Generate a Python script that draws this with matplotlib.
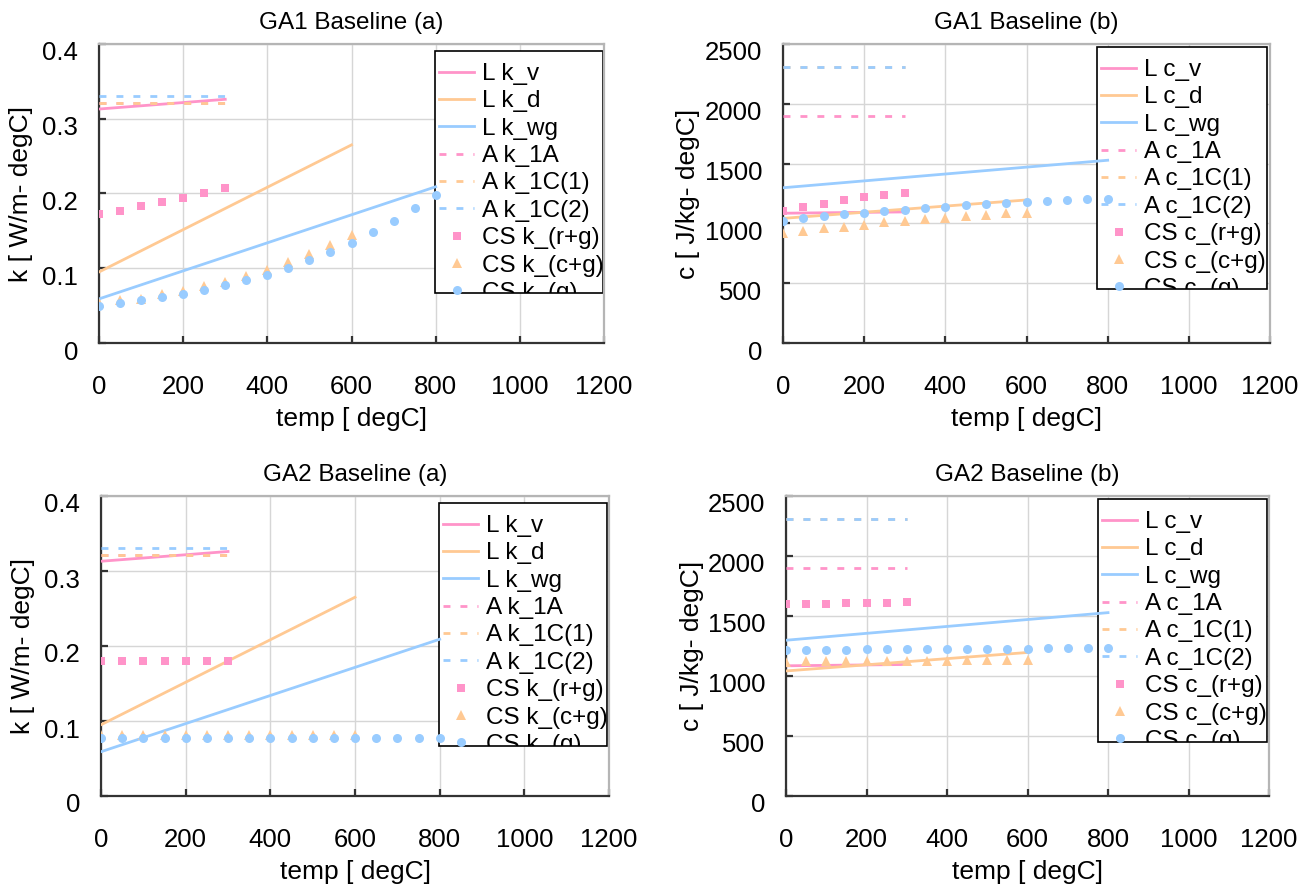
import matplotlib
matplotlib.use('Agg')
import matplotlib.pyplot as plt
from matplotlib.patches import Rectangle
from matplotlib.transforms import Bbox, TransformedBbox, ScaledTranslation

plt.rcParams['font.family'] = ['Liberation Sans', 'DejaVu Sans']

PINK = '#ff94c9'
ORANGE = '#ffc993'
BLUE = '#99ccff'

# temperatures of the CS points
temp_rg = [0, 50, 100, 150, 200, 250, 300]
temp_cg = [0, 50, 100, 150, 200, 250, 300, 350, 400, 450, 500, 550, 600]
temp_g = [0, 50, 100, 150, 200, 250, 300, 350, 400, 450, 500, 550, 600, 650, 700, 750, 800]

# literature lines (L)
lit_v_temp = [0, 300]
lit_d_temp = [0, 600]
lit_wg_temp = [0, 800]
lit_k_v = [0.313, 0.326]
lit_k_d = [0.095, 0.265]
lit_k_wg = [0.059, 0.209]
lit_c_v = [1085, 1096]
lit_c_d = [1042, 1196]
lit_c_wg = [1298, 1528]

# A lines
a_temp = [0, 300]
a_k_1a = [0.321, 0.321]
a_k_1c1 = [0.321, 0.321]
a_k_1c2 = [0.331, 0.331]
a_c_1a = [1900, 1900]
a_c_1c1 = [2305, 2305]
a_c_1c2 = [2305, 2305]

# GA1 CS results
ga1_k_rg = [0.172, 0.177, 0.183, 0.188, 0.194, 0.200, 0.208]
ga1_k_cg = [0.054, 0.057, 0.059, 0.065, 0.070, 0.076, 0.082, 0.089, 0.098, 0.108, 0.119, 0.131, 0.144]
ga1_k_g = [0.049, 0.053, 0.057, 0.061, 0.066, 0.071, 0.077, 0.084, 0.091, 0.100, 0.111, 0.122,
           0.134, 0.148, 0.163, 0.180, 0.198]
ga1_c_rg = [1102, 1136, 1166, 1192, 1217, 1236, 1258]
ga1_c_cg = [919, 938, 958, 974, 988, 1008, 1022, 1033, 1047, 1058, 1072, 1083, 1091]
ga1_c_g = [1022, 1041, 1058, 1077, 1089, 1102, 1114, 1128, 1136, 1150, 1161, 1169, 1178,
           1186, 1194, 1200, 1208]

# GA2 CS results
ga2_k_rg = [0.180, 0.180, 0.180, 0.180, 0.180, 0.180, 0.180]
ga2_k_cg = [0.081, 0.081, 0.081, 0.081, 0.081, 0.081, 0.081, 0.081, 0.081, 0.081, 0.081, 0.081, 0.081]
ga2_k_g = [0.078, 0.078, 0.078, 0.078, 0.078, 0.078, 0.078, 0.078, 0.078, 0.078, 0.078, 0.078,
           0.078, 0.078, 0.078, 0.078, 0.078]
ga2_c_rg = [1597, 1600, 1603, 1606, 1608, 1611, 1614]
ga2_c_cg = [1120, 1121, 1122, 1124, 1125, 1126, 1127, 1128, 1129, 1130, 1131, 1132, 1133]
ga2_c_g = [1217, 1218, 1219, 1220, 1221, 1222, 1223, 1224, 1225, 1226, 1227, 1228, 1229,
           1230, 1231, 1232, 1233]

x_ticks = [0, 200, 400, 600, 800, 1000, 1200]
k_ticks = [0, 0.1, 0.2, 0.3, 0.4]
k_ticklabels = ['0', '0.1', '0.2', '0.3', '0.4']
c_ticks = [0, 500, 1000, 1500, 2000, 2500]

W, H = 1310, 884
fig = plt.figure(figsize=(W / 100, H / 100), dpi=100)


def fig_rect(l, t, r, b):
    return [l / W, 1 - b / H, (r - l) / W, (b - t) / H]


def panel(box, leg_box, title, var, lit, a_lines, cs, ylabel, ylab_x, ylim, yticks, yticklabels):
    ax = fig.add_axes(fig_rect(*box))
    ax.set_axisbelow(True)
    ax.grid(True, color='#d6d6d6', lw=1)

    lw = 2.0
    dash = (2.5, 3.6)
    ax.plot(lit_v_temp, lit[0], color=PINK, lw=lw, label='L %s_v' % var, zorder=3)
    ax.plot(lit_d_temp, lit[1], color=ORANGE, lw=lw, label='L %s_d' % var, zorder=3)
    ax.plot(lit_wg_temp, lit[2], color=BLUE, lw=lw, label='L %s_wg' % var, zorder=3)
    ax.plot(a_temp, a_lines[0], color=PINK, lw=lw, ls=(0, dash), label='A %s_1A' % var, zorder=3)
    ax.plot(a_temp, a_lines[1], color=ORANGE, lw=lw, ls=(0, dash), label='A %s_1C(1)' % var, zorder=3)
    ax.plot(a_temp, a_lines[2], color=BLUE, lw=lw, ls=(0, dash), label='A %s_1C(2)' % var, zorder=3)
    ax.plot(temp_rg, cs[0], 's', color=PINK, ms=6, mew=0, label='CS %s_(r+g)' % var, zorder=3)
    ax.plot(temp_cg, cs[1], '^', color=ORANGE, ms=7, mew=0, label='CS %s_(c+g)' % var, zorder=3)
    ax.plot(temp_g, cs[2], 'o', color=BLUE, ms=6.5, mew=0, label='CS %s_(g)' % var, zorder=3)

    ax.set_xlim(0, 1200)
    ax.set_ylim(*ylim)
    ax.set_xticks(x_ticks)
    ax.set_yticks(yticks)
    ax.set_yticklabels(yticklabels)

    for s in ['left', 'bottom']:
        ax.spines[s].set_color('#333333')
        ax.spines[s].set_linewidth(1.6)
    for s in ['top', 'right']:
        ax.spines[s].set_color('#b5b5b5')
        ax.spines[s].set_linewidth(1.6)
    ax.tick_params(axis='both', direction='in', length=5, width=1.6, color='#333333', labelsize=18.5)
    ax.tick_params(axis='x', pad=23)
    ax.tick_params(axis='y', pad=15)
    off = ScaledTranslation(0, -0.07, fig.dpi_scale_trans)
    for lbl in ax.get_yticklabels():
        lbl.set_transform(lbl.get_transform() + off)

    ax.set_title(title, fontsize=17.5, pad=11)
    ax.set_xlabel('temp [ degC]', fontsize=19)
    ax.xaxis.set_label_coords(0.5, -0.215)
    ax.xaxis.label.set_va('top')
    ax.set_ylabel(ylabel, fontsize=19)
    ax.yaxis.set_label_coords(ylab_x, 0.5)

    # legend box drawn below the data, text clipped to the box
    l, t, r, b = leg_box
    fr = fig_rect(l, t, r, b)
    rect = Rectangle((fr[0], fr[1]), fr[2], fr[3], transform=fig.transFigure,
                     facecolor='white', edgecolor='black', lw=1.2, zorder=1.5)
    ax.add_patch(rect)
    leg = ax.legend(loc='upper left', bbox_to_anchor=((l + 4) / W, 1 - (t + 12) / H),
                    bbox_transform=fig.transFigure, frameon=False, prop={'size': 17.5},
                    borderpad=0, borderaxespad=0, handlelength=1.45, handletextpad=0.3,
                    labelspacing=0.22)
    leg.set_zorder(5)
    clip = TransformedBbox(Bbox.from_bounds(*fr), fig.transFigure)
    for txt in leg.get_texts():
        txt.set_clip_box(clip)
        txt.set_clip_on(True)
    return ax


panel((99, 44, 604, 343), (435, 51, 603, 293), 'GA1 Baseline (a)', 'k',
      (lit_k_v, lit_k_d, lit_k_wg), (a_k_1a, a_k_1c1, a_k_1c2), (ga1_k_rg, ga1_k_cg, ga1_k_g),
      'k [ W/m- degC]', -0.13, (0, 0.4), k_ticks, k_ticklabels)
panel((783, 44, 1270, 343), (1097, 47, 1267, 289), 'GA1 Baseline (b)', 'c',
      (lit_c_v, lit_c_d, lit_c_wg), (a_c_1a, a_c_1c1, a_c_1c2), (ga1_c_rg, ga1_c_cg, ga1_c_g),
      'c [ J/kg- degC]', -0.17, (0, 2500), c_ticks, [str(v) for v in c_ticks])
panel((101, 496, 609, 796), (439, 503, 607, 746), 'GA2 Baseline (a)', 'k',
      (lit_k_v, lit_k_d, lit_k_wg), (a_k_1a, a_k_1c1, a_k_1c2), (ga2_k_rg, ga2_k_cg, ga2_k_g),
      'k [ W/m- degC]', -0.13, (0, 0.4), k_ticks, k_ticklabels)
panel((786, 496, 1269, 796), (1098, 499, 1267, 742), 'GA2 Baseline (b)', 'c',
      (lit_c_v, lit_c_d, lit_c_wg), (a_c_1a, a_c_1c1, a_c_1c2), (ga2_c_rg, ga2_c_cg, ga2_c_g),
      'c [ J/kg- degC]', -0.17, (0, 2500), c_ticks, [str(v) for v in c_ticks])

fig.savefig('out.png', dpi=100)
